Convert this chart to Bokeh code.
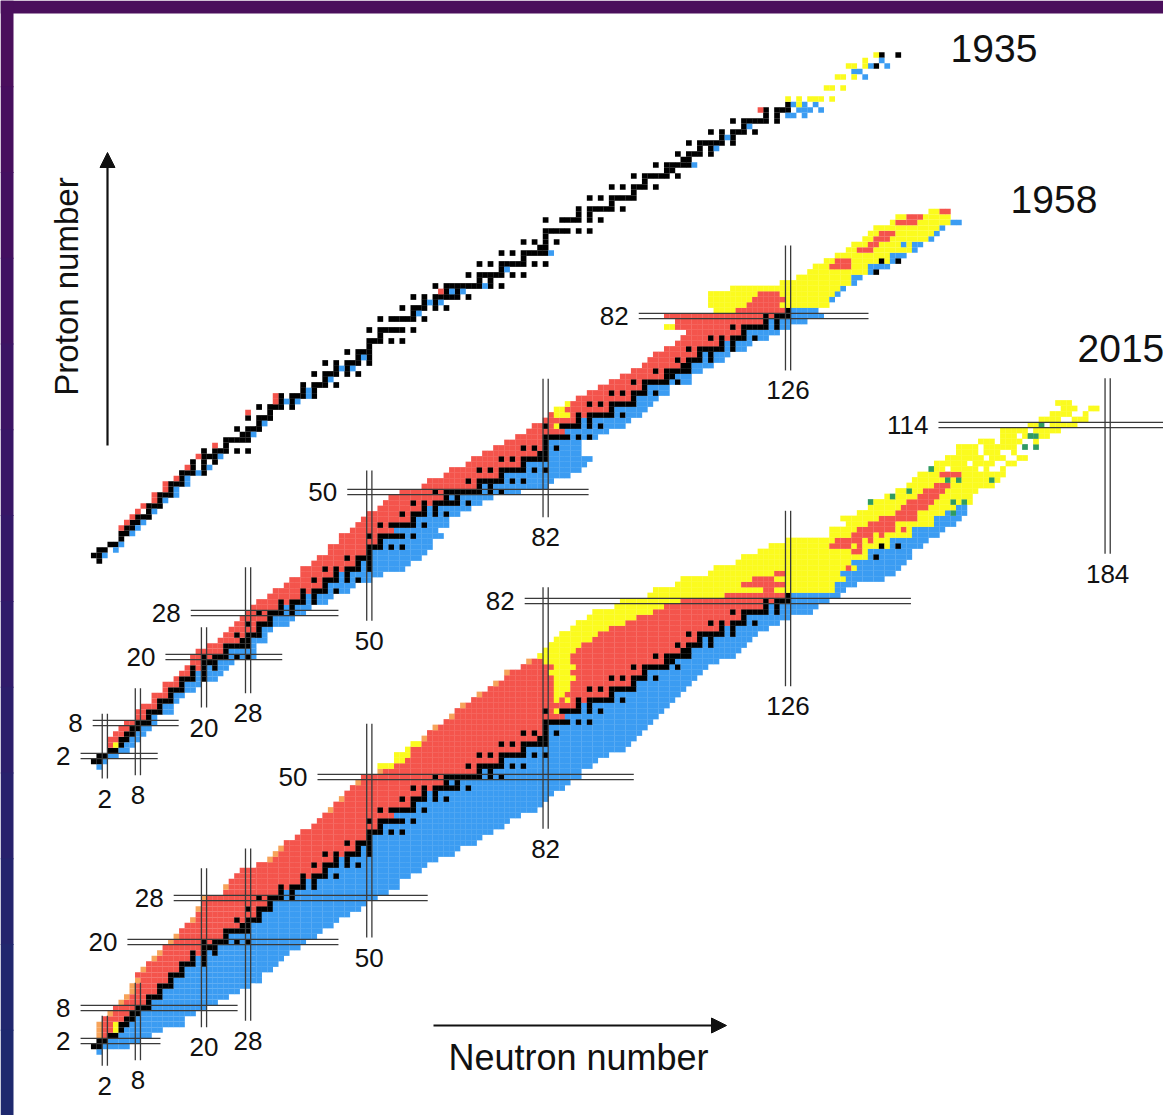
from bokeh.plotting import figure
from bokeh.models import Range1d, Arrow, NormalHead, ColumnDataSource
from bokeh.core.properties import value
from bokeh.embed import file_html
from bokeh.resources import INLINE

# ============================ DATA ============================
# stable / primordial nuclides: neutron numbers for Z = 1..92
STABLE_N = [
    [0, 1], [1, 2], [3, 4], [5], [5, 6], [6, 7], [7, 8], [8, 9, 10], [10], [10, 11, 12],
    [12], [12, 13, 14], [14], [14, 15, 16], [16], [16, 17, 18, 20], [18, 20], [18, 20, 22], [20, 21, 22], [20, 22, 23, 24, 26, 28],
    [24], [24, 25, 26, 27, 28], [27, 28], [26, 28, 29, 30], [30], [28, 30, 31, 32], [32], [30, 32, 33, 34, 36], [34, 36], [34, 36, 37, 38, 40],
    [38, 40], [38, 40, 41, 42, 44], [42], [40, 42, 43, 44, 46, 48], [44, 46], [42, 44, 46, 47, 48, 50], [48, 50], [46, 48, 49, 50], [50], [50, 51, 52, 54, 56],
    [52], [50, 52, 53, 54, 55, 56, 58], [], [52, 54, 55, 56, 57, 58, 60], [58], [56, 58, 59, 60, 62, 64], [60, 62], [58, 60, 62, 63, 64, 65, 66, 68], [64, 66], [62, 64, 65, 66, 67, 68, 69, 70, 72, 74],
    [70, 72], [68, 70, 71, 72, 73, 74, 76, 78], [74], [70, 72, 74, 75, 76, 77, 78, 80, 82], [78], [74, 76, 78, 79, 80, 81, 82], [81, 82], [78, 80, 82, 84], [82], [82, 83, 84, 85, 86, 88, 90],
    [], [82, 85, 86, 87, 88, 90, 92], [88, 90], [88, 90, 91, 92, 93, 94, 96], [94], [90, 92, 94, 95, 96, 97, 98], [98], [94, 96, 98, 99, 100, 102], [100], [98, 100, 101, 102, 103, 104, 106],
    [104, 105], [102, 104, 105, 106, 107, 108], [107, 108], [106, 108, 109, 110, 112], [110, 112], [108, 110, 111, 112, 113, 114, 116], [114, 116], [112, 114, 116, 117, 118, 120], [118], [116, 118, 119, 120, 121, 122, 124],
    [122, 124], [122, 124, 125, 126], [126], [], [], [], [], [], [], [142],
    [], [143, 146],
]

# ---------- 2015 chart: one row per Z = 0..118 ----------
Z15 = list(range(0, 119))
NMIN15 = [1,
          0, 1, 1, 1, 1, 2, 3, 4, 5, 6,
          7, 7, 8, 8, 9, 10, 11, 12, 13, 14,
          15, 16, 17, 18, 19, 19, 20, 20, 24, 24,
          25, 26, 27, 30, 32, 33, 34, 35, 37, 38,
          40, 41, 42, 43, 44, 45, 46, 47, 48, 49,
          52, 52, 55, 55, 57, 58, 60, 61, 62, 64,
          65, 66, 67, 69, 70, 72, 73, 75, 75, 78,
          79, 81, 82, 83, 84, 85, 87, 88, 90, 91,
          95, 96, 101, 102, 106, 107, 112, 113, 117, 118,
          121, 123, 126, 134, 134, 137, 136, 139, 141, 141,
          144, 146, 148, 149, 150, 152, 153, 155, 157, 157,
          161, 165, 165, 170, 172, 174, 176, 175]
NMAX15 = [1,
          6, 8, 10, 12, 16, 16, 18, 20, 22, 24,
          26, 28, 30, 30, 32, 33, 34, 35, 37, 38,
          40, 41, 43, 44, 46, 48, 49, 51, 53, 55,
          55, 57, 59, 60, 62, 65, 66, 69, 70, 72,
          74, 75, 77, 80, 81, 82, 83, 85, 86, 88,
          88, 90, 91, 93, 96, 97, 98, 99, 100, 101,
          102, 103, 104, 105, 106, 107, 108, 109, 110, 111,
          113, 116, 117, 118, 119, 120, 122, 124, 126, 130,
          131, 133, 135, 136, 138, 143, 145, 146, 147, 148,
          148, 150, 151, 153, 154, 156, 157, 158, 158, 159,
          159, 160, 163, 164, 165, 165, 167, 169, 169, 171,
          171, 173, 175, 178, 180, 180, 182, 177]
# first neutron number on the beta-minus side
NB15 = [1,
        2, 3, 5, 6, 7, 8, 9, 11, 11, 13,
        13, 15, 15, 17, 17, 19, 19, 21, 21, 25,
        25, 29, 29, 31, 31, 33, 33, 35, 35, 39,
        39, 43, 43, 45, 45, 49, 49, 51, 51, 53,
        53, 57, 55, 59, 59, 61, 61, 63, 65, 71,
        71, 75, 75, 79, 79, 83, 83, 83, 83, 87,
        86, 89, 89, 95, 95, 99, 99, 101, 101, 105,
        105, 109, 109, 111, 111, 115, 115, 119, 119, 123,
        123, 127, 127, 135, 135, 137, 136, 139, 138, 141,
        141, 145, 145, 149, 149, 153, 153, 155, 157, 200,
        200, 200, 200, 200, 200, 200, 200, 200, 200, 200,
        200, 200, 200, 200, 200, 200, 200, 200]
# alpha-decay (yellow) segments: Z, first N, last N
Y15_Z = [4, 5, 52, 53, 54, 55, 56, 62, 64, 64, 65, 66, 67, 68, 69, 70, 71, 72, 73, 74, 75, 76, 77, 78, 79, 80, 81, 82, 83,
         84, 84, 85, 85, 86, 86, 87, 87, 88, 88, 89, 90, 91, 91, 92, 92, 93, 93, 94, 94, 95, 95, 95, 96, 96, 97, 97, 98, 99, 99, 100,
         101, 102, 103, 104, 105, 106, 107, 108, 109, 110, 111, 112, 113, 114, 115, 116, 117, 118]
Y15_N0 = [4, 4, 52, 55, 55, 57, 58, 84, 84, 86, 84, 84, 84, 84, 83, 84, 82, 81, 82, 83, 84, 85, 87, 88, 90, 91, 95, 96, 101,
          102, 124, 106, 126, 107, 124, 112, 126, 113, 138, 117, 118, 121, 140, 123, 140, 126, 142, 134, 144, 134, 146, 148, 137, 146, 136, 150, 139, 141, 152, 141,
          144, 146, 148, 149, 150, 152, 153, 155, 157, 157, 161, 165, 165, 170, 172, 174, 176, 175]
Y15_N1 = [4, 4, 54, 56, 57, 57, 59, 85, 84, 86, 85, 86, 86, 87, 86, 87, 86, 86, 87, 88, 90, 91, 93, 96, 98, 101, 103, 106, 114,
          121, 134, 117, 134, 119, 136, 123, 135, 136, 138, 137, 140, 137, 140, 138, 144, 140, 144, 142, 148, 141, 146, 148, 144, 152, 145, 152, 154, 148, 156, 159,
          159, 160, 163, 164, 165, 165, 167, 169, 169, 171, 171, 173, 175, 178, 180, 180, 182, 177]
# electron-capture (red) patches inside the heavy region
R15_Z = [92, 93, 94, 95, 96, 97, 98, 99, 100, 101, 102, 103, 105]
R15_N0 = [134, 135, 138, 139, 141, 143, 146, 147, 148, 150, 151, 153, 154]
R15_N1 = [137, 139, 141, 143, 144, 148, 149, 151, 152, 153, 154, 155, 157]
# spontaneous fission (green)
G15_Z = [98, 100, 100, 100, 101, 102, 104, 104, 104, 106, 110, 110, 112, 112, 114]
G15_N = [156, 141, 156, 158, 145, 148, 155, 157, 163, 152, 169, 171, 170, 171, 172]
# proton emitters at the drip line (orange)
O15_Z = [3, 4, 5, 7, 9, 10, 11, 12, 13, 15, 17, 18, 20, 21, 24, 26, 28, 30, 35, 36, 37, 44, 46, 49, 51, 53, 55, 57, 59, 61, 63, 65, 67, 69, 71]
O15_N = [1, 1, 1, 3, 5, 6, 7, 7, 8, 9, 11, 12, 14, 15, 18, 19, 20, 24, 32, 33, 34, 43, 45, 48, 52, 55, 57, 60, 62, 65, 67, 70, 73, 75, 79]
# gaps (unobserved) in the sparse superheavy rows: Z, first N, last N
S15_Z = [106, 106, 106, 107, 107, 108, 108, 109, 109, 109, 110, 110, 110, 111, 111, 112, 113, 114, 115, 116, 117]
S15_N0 = [155, 161, 163, 159, 164, 162, 166, 161, 165, 168, 161, 168, 170, 164, 169, 168, 170, 173, 176, 178, 179]
S15_N1 = [155, 161, 164, 159, 165, 162, 167, 161, 166, 169, 161, 168, 170, 164, 170, 168, 170, 173, 177, 179, 180]

# ---------- 1958 chart: one row per Z = 0..101 ----------
Z58 = list(range(0, 102))
NMIN58 = [1,
          0, 1, 3, 3, 3, 4, 5, 6, 8, 8,
          9, 11, 11, 13, 13, 15, 16, 17, 18, 18,
          19, 21, 23, 24, 25, 26, 27, 28, 29, 30,
          32, 33, 35, 36, 38, 38, 40, 41, 43, 43,
          45, 45, 47, 48, 49, 50, 52, 53, 54, 56,
          60, 61, 64, 65, 68, 69, 71, 73, 75, 77,
          79, 80, 82, 83, 84, 86, 88, 90, 92, 94,
          96, 98, 100, 101, 102, 104, 106, 107, 108, 104,
          106, 104, 113, 112, 112, 112, 116, 125, 128, 130,
          131, 133, 135, 137, 138, 140, 141, 142, 145, 146,
          152]
NMAX58 = [1,
          2, 4, 6, 7, 8, 9, 10, 11, 11, 14,
          14, 15, 16, 18, 19, 22, 23, 24, 25, 29,
          29, 29, 31, 31, 32, 35, 36, 38, 39, 42,
          43, 46, 47, 50, 52, 56, 57, 59, 60, 61,
          61, 63, 62, 64, 64, 66, 68, 70, 72, 77,
          82, 83, 86, 88, 89, 90, 88, 88, 88, 91,
          93, 96, 97, 99, 100, 101, 102, 104, 104, 108,
          108, 110, 112, 114, 115, 118, 119, 122, 124, 126,
          129, 132, 131, 133, 134, 135, 136, 138, 139, 142,
          144, 146, 147, 149, 150, 152, 153, 154, 157, 155,
          155]
NB58 = [1,
        2, 3, 5, 6, 7, 8, 9, 11, 11, 13,
        13, 15, 15, 17, 17, 19, 19, 21, 21, 25,
        25, 29, 29, 31, 31, 33, 33, 35, 35, 39,
        39, 43, 43, 45, 45, 49, 49, 51, 51, 53,
        53, 57, 55, 59, 59, 61, 61, 63, 65, 71,
        71, 75, 75, 79, 79, 83, 83, 83, 83, 87,
        86, 89, 89, 95, 95, 99, 99, 101, 101, 105,
        105, 109, 109, 111, 111, 115, 115, 119, 119, 123,
        123, 127, 127, 134, 134, 135, 136, 138, 138, 141,
        141, 145, 145, 149, 147, 152, 153, 154, 156, 200,
        200]
Y58_Z = [4, 62, 64, 65, 66, 80, 83, 84, 85, 86, 87, 88, 89, 90, 91, 92, 93, 94, 95, 95, 96, 97, 98, 99, 100, 101]
Y58_N0 = [4, 84, 84, 84, 86, 104, 113, 112, 112, 112, 116, 125, 128, 130, 131, 133, 135, 137, 138, 148, 140, 141, 142, 145, 146, 152]
Y58_N1 = [4, 84, 86, 85, 86, 105, 124, 133, 133, 134, 135, 137, 137, 140, 140, 144, 144, 148, 146, 148, 151, 152, 153, 155, 155, 153]
R58_Z = [83, 84, 85, 86, 91, 92, 94, 95, 96, 97, 99, 100, 101]
R58_N0 = [117, 119, 120, 121, 134, 135, 139, 141, 142, 143, 146, 148, 155]
R58_N1 = [125, 124, 125, 124, 137, 137, 141, 142, 144, 145, 149, 150, 155]

# ---------- 1935 chart: known radioactive nuclides ----------
R35_Z = [6, 7, 8, 9, 10, 11, 12, 13, 14, 15, 17, 19, 21, 27, 29, 30, 49, 82]
R35_N = [5, 6, 7, 8, 9, 11, 11, 13, 13, 15, 17, 19, 22, 28, 33, 33, 63, 121]
B35_Z = [1, 2, 3, 5, 6, 7, 9, 11, 12, 13, 14, 15, 16, 17, 19, 23, 25, 29, 29, 30, 31, 33, 35, 35, 37, 45, 47, 47, 49, 49,
         50, 53, 56, 72, 75, 77, 79, 81, 81, 81, 82, 82, 82, 82, 83, 83, 83, 88, 89, 89, 90, 90, 91]
B35_N = [2, 4, 5, 7, 8, 9, 11, 13, 15, 15, 17, 17, 19, 21, 23, 29, 31, 35, 37, 39, 39, 43, 45, 47, 49, 59, 61, 63, 65, 67,
         71, 75, 83, 109, 113, 115, 119, 126, 127, 129, 128, 129, 130, 132, 127, 129, 131, 140, 138, 139, 141, 144, 143]
Y35_Z = [83, 84, 84, 84, 84, 84, 84, 86, 86, 86, 88, 88, 88, 90, 90, 90, 91, 92]
Y35_N = [128, 126, 128, 130, 131, 132, 134, 133, 134, 136, 135, 136, 138, 137, 138, 140, 140, 142]
K35_Z = [0]
K35_N = [1]

# ---------- magic numbers ----------
MAGIC_Z15 = [2, 8, 20, 28, 50, 82, 114]
MAGIC_N15 = [2, 8, 20, 28, 50, 82, 126, 184]
MAGIC_Z58 = [2, 8, 20, 28, 50, 82]
MAGIC_N58 = [2, 8, 20, 28, 50, 82, 126]
YEARS = ["1935", "1958", "2015"]

# ============================ LAYOUT ============================
W, H = 1163, 1115
X0, SX = 93.3, 5.51      # pixel of N = 0, pixels per neutron
Y0, SY = 1051.5, 5.5     # pixel of Z = 0 (2015 chart), pixels per proton


def nx(px):
    return (px - X0) / SX


def zy(py):
    return (Y0 - py) / SY


OFF = {"2015": 0.0, "1958": 285 / SY, "1935": 491 / SY}
# extents of the double magic lines (N range for Z-lines, Z range for N-lines)
HEXT15 = [(-2.4, 12.1), (-2.4, 26.1), (6.1, 44.4), (14.5, 60.6), (40.6, 98.0), (78.2, 148.3), (153.3, 197)]
VEXT15 = [(-2.5, 6.6), (-1.5, 12.6), (4.5, 33.4), (5.7, 37.0), (20.8, 59.7), (40.6, 84.5), (66.5, 98.4), (90.6, 122.5)]
HEXT58 = [(-2.4, 11.6), (-0.2, 15.4), (13.0, 34.2), (17.6, 44.4), (46.0, 89.8), (98.9, 140.6)]
VEXT58 = [(-2.1, 9.7), (-1.5, 14.3), (10.8, 25.4), (13.4, 36.3), (26.6, 53.9), (45.4, 70.6), (72.1, 94.8)]

BLACK, RED, BLUE, YELLOW = "#000000", "#f4544c", "#3b9cf2", "#fbfb1e"
GREEN, ORANGE, LINE = "#2f9a62", "#f7a35a", "#3a3a3a"
FONT = value("Liberation Sans")

p = figure(width=W, height=H,
           x_range=Range1d(nx(0), nx(W)),
           y_range=Range1d(zy(H), zy(0)),
           output_backend="svg", toolbar_location=None,
           x_axis_type=None, y_axis_type=None, min_border=0,
           background_fill_color="white", border_fill_color="white",
           outline_line_color=None)

STABLE = {(z, n) for z, ns in enumerate(STABLE_N, start=1) for n in ns}


def segs(zs, a, b):
    d = {}
    for z, n0, n1 in zip(zs, a, b):
        d.setdefault(z, []).append((n0, n1))
    return d


def inside(d, z, n):
    return any(a <= n <= b for a, b in d.get(z, []))


def chart(zs, nmin, nmax, nb, ylw, red, green, orange, skip, off):
    xs, ys, cs = [], [], []
    for i, z in enumerate(zs):
        for n in range(nmin[i], nmax[i] + 1):
            if inside(skip, z, n):
                continue
            if (z, n) in STABLE:
                c = BLACK
            elif (z, n) in green:
                c = GREEN
            elif inside(red, z, n):
                c = RED
            elif inside(ylw, z, n):
                c = YELLOW
            elif (z, n) in orange:
                c = ORANGE
            elif n < nb[i]:
                c = RED
            else:
                c = BLUE
            xs.append(n)
            ys.append(z + off)
            cs.append(c)
    return xs, ys, cs


cells = {"x": [], "y": [], "c": []}


def add(xs, ys, cs):
    cells["x"] += xs
    cells["y"] += ys
    cells["c"] += cs


add(*chart(Z15, NMIN15, NMAX15, NB15, segs(Y15_Z, Y15_N0, Y15_N1), segs(R15_Z, R15_N0, R15_N1),
           set(zip(G15_Z, G15_N)), set(zip(O15_Z, O15_N)), segs(S15_Z, S15_N0, S15_N1), OFF["2015"]))
add(*chart(Z58, NMIN58, NMAX58, NB58, segs(Y58_Z, Y58_N0, Y58_N1), segs(R58_Z, R58_N0, R58_N1),
           set(), set(), {}, OFF["1958"]))
# 1935: stable nuclides plus the few radioactive ones known then
o = OFF["1935"]
st = sorted(STABLE)
add([n for z, n in st], [z + o for z, n in st], [BLACK] * len(st))
add(K35_N, [z + o for z in K35_Z], [BLACK] * len(K35_Z))
add(R35_N, [z + o for z in R35_Z], [RED] * len(R35_Z))
add(B35_N, [z + o for z in B35_Z], [BLUE] * len(B35_Z))
add(Y35_N, [z + o for z in Y35_Z], [YELLOW] * len(Y35_Z))

p.rect(x="x", y="y", width=1.04, height=1.04, fill_color="c", line_color=None,
       source=ColumnDataSource(cells))

# ---- magic-number double lines and their labels ----
seg = {"x0": [], "y0": [], "x1": [], "y1": []}
lab_l = {"x": [], "y": [], "t": []}
lab_b = {"x": [], "y": [], "t": []}
GAP = 0.47
for mz, ext, mn, vext, off in [(MAGIC_Z15, HEXT15, MAGIC_N15, VEXT15, OFF["2015"]),
                               (MAGIC_Z58, HEXT58, MAGIC_N58, VEXT58, OFF["1958"])]:
    for m, (a, b) in zip(mz, ext):
        for d in (-GAP, GAP):
            seg["x0"].append(a); seg["x1"].append(b)
            seg["y0"].append(m + off + d); seg["y1"].append(m + off + d)
        lab_l["x"].append(a - 10 / SX); lab_l["y"].append(m + off); lab_l["t"].append(str(m))
    for m, (a, b) in zip(mn, vext):
        for d in (-GAP, GAP):
            seg["x0"].append(m + d); seg["x1"].append(m + d)
            seg["y0"].append(a + off); seg["y1"].append(b + off)
        lab_b["x"].append(m); lab_b["y"].append(a + off - 20 / SY); lab_b["t"].append(str(m))

p.segment(x0="x0", y0="y0", x1="x1", y1="y1", line_color=LINE, line_width=1.3,
          source=ColumnDataSource(seg))
p.text(x="x", y="y", text="t", text_font=FONT, text_font_size="26px", text_color="#111111",
       text_align="right", text_baseline="middle", source=ColumnDataSource(lab_l))
p.text(x="x", y="y", text="t", text_font=FONT, text_font_size="26px", text_color="#111111",
       text_align="center", text_baseline="middle", source=ColumnDataSource(lab_b))

# ---- year titles ----
p.text(x=[nx(993.5), nx(1053.5), nx(1077)], y=[zy(48), zy(199), zy(348)], text=YEARS,
       text_font=FONT, text_font_size="39px", text_color="#111111",
       text_align=["center", "center", "left"], text_baseline="middle")

# ---- axis arrows and titles ----
p.add_layout(Arrow(end=NormalHead(size=15, fill_color="#111111", line_color="#111111"),
                   x_start=nx(107), y_start=zy(445), x_end=nx(107), y_end=zy(152),
                   line_width=2.2, line_color="#111111"))
p.add_layout(Arrow(end=NormalHead(size=15, fill_color="#111111", line_color="#111111"),
                   x_start=nx(433), y_start=zy(1025), x_end=nx(726), y_end=zy(1025),
                   line_width=2.2, line_color="#111111"))
p.text(x=[nx(66)], y=[zy(286)], text=["Proton number"], angle=1.5708, text_font=FONT,
       text_font_size="33px", text_color="#111111", text_align="center", text_baseline="middle")
p.text(x=[nx(578)], y=[zy(1057)], text=["Neutron number"], text_font=FONT,
       text_font_size="36px", text_color="#111111", text_align="center", text_baseline="middle")

# ---- dark frame (top strip, left strip with purple-to-blue shade) ----
p.quad(left=[nx(0)], right=[nx(W)], top=[zy(0)], bottom=[zy(13)],
       fill_color="#4a0f5c", line_color=None)
SHADES = ["#4a0f5c", "#470f5e", "#441060", "#401262", "#3c1464", "#381666", "#341868",
          "#301b6a", "#2c1e6b", "#28216c", "#24246d", "#21276e", "#1e296e"]
k = len(SHADES)
for i, col in enumerate(SHADES):
    top = (H * i) / k
    p.quad(left=[nx(0)], right=[nx(13)], top=[zy(top)], bottom=[zy(top + H / k + 1)],
           fill_color=col, line_color=None)

open("out.html", "w").write(file_html(p, INLINE, title="Nuclide charts 1935 1958 2015"))
